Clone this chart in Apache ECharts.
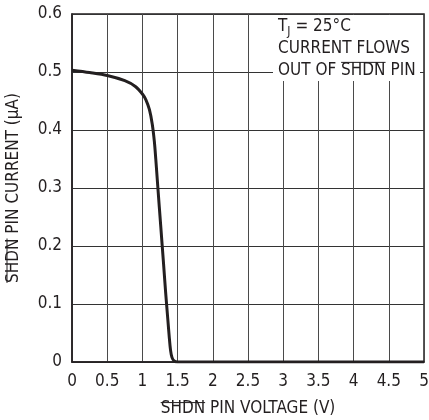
<!DOCTYPE html>
<html><head><meta charset="utf-8">
<script src="https://cdn.jsdelivr.net/npm/echarts@6/dist/echarts.min.js"></script>
<style>html,body{margin:0;padding:0;background:#fff}#c{width:429px;height:420px}</style>
</head><body><div id="c"></div>
<script>
const voltage = [0, 0.25, 0.5, 0.75, 0.9, 1.0, 1.05, 1.1, 1.14, 1.17, 1.19, 1.22, 1.26, 1.30, 1.33, 1.36, 1.38, 1.40, 1.42, 1.45, 1.5, 2, 3, 4, 5];
const current = [0.503, 0.499, 0.494, 0.485, 0.475, 0.462, 0.452, 0.435, 0.41, 0.38, 0.35, 0.30, 0.235, 0.17, 0.12, 0.075, 0.045, 0.02, 0.008, 0.002, 0, 0, 0, 0, 0];
const xTicks = [0, 0.5, 1, 1.5, 2, 2.5, 3, 3.5, 4, 4.5, 5];
const yTicks = [0, 0.1, 0.2, 0.3, 0.4, 0.5, 0.6];
const xName = 'SHDN PIN VOLTAGE (V)';
const yName = 'SHDN PIN CURRENT (μA)';
const noteLine1a = 'T', noteSub = 'J', noteLine1b = ' = 25°C';
const noteLine2 = 'CURRENT FLOWS';
const noteLine3pre = 'OUT OF ', noteLine3bar = 'SHDN', noteLine3post = ' PIN';

const FONT = "'DejaVu Sans Condensed','Liberation Sans',sans-serif";
const FS = 17, TXT = '#231f20';
const mctx = document.createElement('canvas').getContext('2d');
function tw(t, s){ mctx.font = s + 'px ' + FONT; return mctx.measureText(t).width; }

const chart = echarts.init(document.getElementById('c'), null, {renderer:'canvas'});
const XGAP = 38, YGAP = 50;
const option = {
  animation:false,
  grid:{left:72, right:5, top:14, bottom:58, outerBoundsMode:'none', show:true, borderColor:TXT, borderWidth:1.5, backgroundColor:'transparent'},
  xAxis:{type:'value', min:xTicks[0], max:xTicks[xTicks.length-1], interval:0.5,
    axisLine:{show:true, lineStyle:{color:TXT, width:1.5}}, axisTick:{show:false},
    axisLabel:{color:TXT, fontFamily:FONT, fontSize:FS, margin:11, formatter:v=>String(v)},
    splitLine:{show:true, lineStyle:{color:'#4a4a4a', width:1}},
    name:xName, nameLocation:'middle', nameGap:XGAP,
    nameTextStyle:{color:TXT, fontFamily:FONT, fontSize:FS}},
  yAxis:{type:'value', min:yTicks[0], max:yTicks[yTicks.length-1], interval:0.1,
    axisLine:{show:true, lineStyle:{color:TXT, width:1.5}}, axisTick:{show:false},
    axisLabel:{color:TXT, fontFamily:FONT, fontSize:FS, margin:10, formatter:v=>String(+v.toFixed(1))},
    splitLine:{show:true, lineStyle:{color:'#333', width:1}},
    name:yName, nameLocation:'middle', nameGap:YGAP, nameRotate:90,
    nameTextStyle:{color:TXT, fontFamily:FONT, fontSize:FS}},
  series:[{type:'line', data:voltage.map((v,i)=>[v,current[i]]), showSymbol:false,
    smooth:0.3, lineStyle:{color:TXT, width:3}, z:5}]
};
chart.setOption(option);

// decorations: annotation box and overlines
const p00 = chart.convertToPixel({gridIndex:0}, [0,0]);
const p11 = chart.convertToPixel({gridIndex:0}, [5,0.6]);
const cx = (p00[0]+p11[0])/2, cy = (p00[1]+p11[1])/2;
const capH = FS*0.72;
const g = [];
const xW = tw(xName, FS), xBar = tw('SHDN', FS);
const xTop = p00[1] + XGAP + (FS*1.2 - capH)/2 + 0.5;
g.push({type:'line', shape:{x1:cx - xW/2, y1:xTop - 2, x2:cx - xW/2 + xBar, y2:xTop - 2}, style:{stroke:TXT, lineWidth:1}});
const yW = tw(yName, FS), yBar = tw('SHDN', FS);
const yLeft = p00[0] - YGAP - 15;
g.push({type:'line', shape:{x1:yLeft, y1:cy + yW/2, x2:yLeft, y2:cy + yW/2 - yBar}, style:{stroke:TXT, lineWidth:1}});
const bx = 273, by = p11[1] + 1, bw = 147, bh = 66, tx = 278;
g.push({type:'rect', shape:{x:bx, y:by, width:bw, height:bh}, style:{fill:'#fff'}, z:10});
const ts = {fill:TXT, font:FS + 'px ' + FONT, verticalAlign:'middle', align:'left'};
g.push({type:'text', x:tx, y:by+12, style:Object.assign({text:noteLine1a}, ts), z:11});
g.push({type:'text', x:tx + tw(noteLine1a, FS), y:by+17, style:Object.assign({}, ts, {text:noteSub, font:'12px ' + FONT}), z:11});
g.push({type:'text', x:tx + tw(noteLine1a, FS) + tw(noteSub, 12), y:by+12, style:Object.assign({text:noteLine1b}, ts), z:11});
g.push({type:'text', x:tx, y:by+34, style:Object.assign({text:noteLine2}, ts), z:11});
g.push({type:'text', x:tx, y:by+56, style:Object.assign({text:noteLine3pre + noteLine3bar + noteLine3post}, ts), z:11});
const ox = tx + tw(noteLine3pre, FS), ow = tw(noteLine3bar, FS);
g.push({type:'line', shape:{x1:ox, y1:by+56-capH/2-2.5, x2:ox+ow, y2:by+56-capH/2-2.5}, style:{stroke:TXT, lineWidth:1}, z:11});
chart.setOption({graphic:{elements:g}});
</script>
</body></html>
